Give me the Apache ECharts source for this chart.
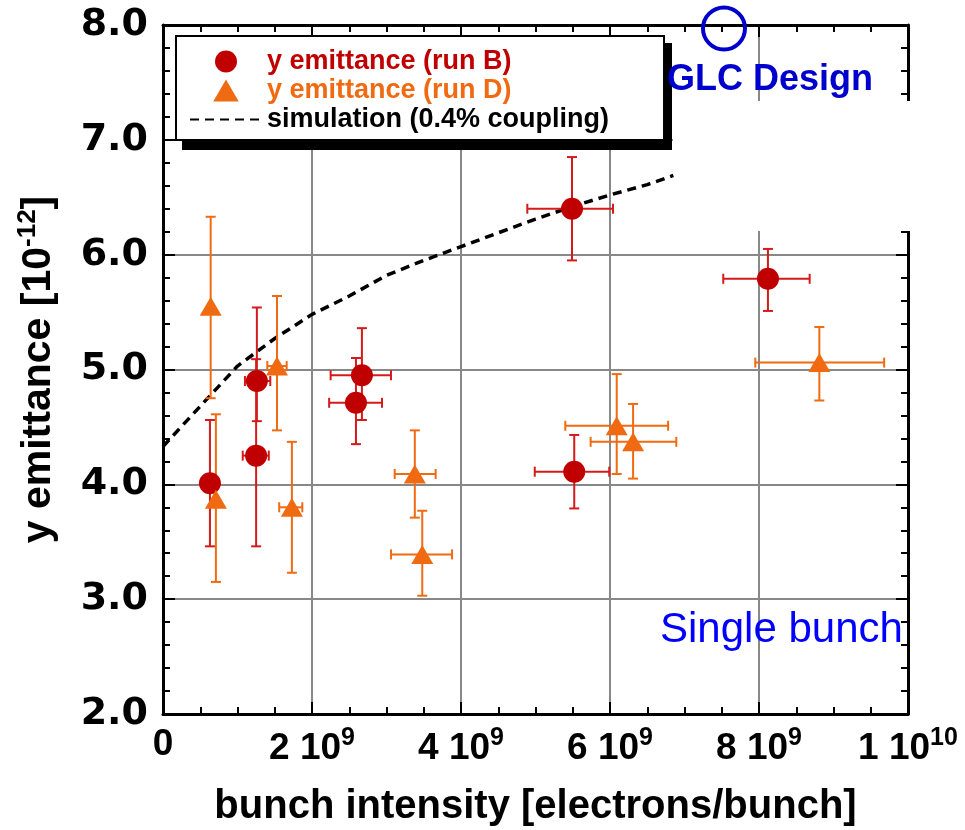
<!DOCTYPE html>
<html>
<head>
<meta charset="utf-8">
<script src="https://cdn.jsdelivr.net/npm/echarts@6/dist/echarts.min.js"></script>
<style>
  html, body { margin: 0; padding: 0; background: #fff; }
  #chart { width: 965px; height: 830px; }
</style>
</head>
<body>
<div id="chart"></div>
<script>
// values in units of 1e9 electrons/bunch and 1e-12
var runBX   = [0.63, 1.25, 1.26, 2.59, 2.67, 5.49, 5.52, 8.12];
var runBY   = [4.01, 4.25, 4.90, 4.71, 4.95, 6.40, 4.11, 5.79];
var runBYLo = [3.46, 3.46, 4.55, 4.35, 4.56, 5.95, 3.79, 5.51];
var runBYHi = [4.56, 5.09, 5.54, 5.10, 5.36, 6.85, 4.43, 6.05];
var runBXLo = [0.63, 1.07, 1.10, 2.23, 2.25, 4.89, 4.99, 7.52];
var runBXHi = [0.63, 1.42, 1.44, 2.94, 3.06, 6.04, 5.99, 8.68];

var runDX   = [0.64, 0.71, 1.53, 1.73, 3.38, 3.48, 6.09, 6.31, 8.81];
var runDY   = [5.55, 3.87, 5.03, 3.80, 4.09, 3.39, 4.51, 4.37, 5.06];
var runDYLo = [4.75, 3.15, 4.47, 3.23, 3.71, 3.03, 4.09, 4.05, 4.73];
var runDYHi = [6.33, 4.61, 5.64, 4.37, 4.47, 3.77, 4.96, 4.70, 5.37];
var runDXLo = [0.64, 0.71, 1.40, 1.56, 3.11, 3.06, 5.40, 5.74, 7.95];
var runDXHi = [0.64, 0.71, 1.66, 1.87, 3.66, 3.88, 6.78, 6.89, 9.68];

var simX = [0, 0.5, 1.0, 1.5, 2.0, 2.5, 3.0, 3.5, 4.0, 4.5, 5.0, 5.5, 6.0, 6.5, 6.85];
var simY = [4.33, 4.68, 5.03, 5.27, 5.48, 5.64, 5.82, 5.95, 6.07, 6.19, 6.31, 6.42, 6.52, 6.61, 6.69];

var glcX = [7.53];
var glcY = [7.97];

var xTicks = ['0', '2 10{s|9}', '4 10{s|9}', '6 10{s|9}', '8 10{s|9}', '1 10{s|10}'];

var RED = '#c00000', RED_BAR = '#d41a1a', ORANGE = '#f06a12';
var FONT = 'Liberation Sans, Arial, sans-serif';

function zip(a, b) {
    var out = [];
    for (var i = 0; i < a.length; i++) out.push([a[i], b[i]]);
    return out;
}
function errData(x, y, xlo, xhi, ylo, yhi) {
    var out = [];
    for (var i = 0; i < x.length; i++) out.push([x[i], y[i], xlo[i], xhi[i], ylo[i], yhi[i]]);
    return out;
}
function errorBars(color) {
    return function (params, api) {
        var p  = api.coord([api.value(0), api.value(1)]);
        var lo = api.coord([api.value(0), api.value(4)]);
        var hi = api.coord([api.value(0), api.value(5)]);
        var l  = api.coord([api.value(2), api.value(1)]);
        var r  = api.coord([api.value(3), api.value(1)]);
        var st = { stroke: color, lineWidth: 2 };
        var c = 5;
        var kids = [
            { type: 'line', shape: { x1: p[0], y1: lo[1], x2: p[0], y2: hi[1] }, style: st },
            { type: 'line', shape: { x1: p[0] - c, y1: lo[1], x2: p[0] + c, y2: lo[1] }, style: st },
            { type: 'line', shape: { x1: p[0] - c, y1: hi[1], x2: p[0] + c, y2: hi[1] }, style: st }
        ];
        if (r[0] - l[0] > 1) {
            kids.push({ type: 'line', shape: { x1: l[0], y1: p[1], x2: r[0], y2: p[1] }, style: st });
            kids.push({ type: 'line', shape: { x1: l[0], y1: p[1] - c, x2: l[0], y2: p[1] + c }, style: st });
            kids.push({ type: 'line', shape: { x1: r[0], y1: p[1] - c, x2: r[0], y2: p[1] + c }, style: st });
        }
        return { type: 'group', children: kids };
    };
}

var chart = echarts.init(document.getElementById('chart'));
var frame = { onZero: false, lineStyle: { color: '#000', width: 3 } };
var tick = { inside: true, length: 12, lineStyle: { color: '#000', width: 2 } };
var option = {
    animation: false,
    backgroundColor: '#fff',
    grid: { left: 163, top: 25, right: 57, bottom: 116, outerBoundsMode: 'none', containLabel: false },
    legend: {
        orient: 'vertical',
        left: 176, top: 36, z: 8,
        padding: [12, 55, 7, 13],
        itemWidth: 72, itemHeight: 22, itemGap: 2,
        backgroundColor: '#fff',
        borderColor: '#000', borderWidth: 2, borderRadius: 0,
        textStyle: { fontFamily: FONT, fontWeight: 'bold', fontSize: 27, lineHeight: 27 },
        data: [
            { name: 'y emittance (run B)', icon: 'circle', textStyle: { color: RED } },
            { name: 'y emittance (run D)', icon: 'path://M0,19L11,0L22,19Z', textStyle: { color: ORANGE } },
            { name: 'simulation (0.4% coupling)', textStyle: { color: '#000' },
              itemStyle: { color: 'rgba(0,0,0,0)', borderWidth: 0 } }
        ]
    },
    xAxis: [{
        type: 'value', min: 0, max: 10, interval: 2,
        name: 'bunch intensity [electrons/bunch]',
        nameLocation: 'middle', nameGap: 73,
        nameTextStyle: { fontFamily: FONT, fontWeight: 'bold', fontSize: 40, color: '#000' },
        axisLine: frame,
        axisTick: tick,
        minorTick: { show: true, splitNumber: 4, length: 7, lineStyle: { color: '#000', width: 2 } },
        splitLine: { show: true, lineStyle: { color: '#888', width: 2 } },
        axisLabel: {
            margin: 12, color: '#000',
            fontFamily: FONT, fontWeight: 'bold', fontSize: 37,
            formatter: function (v) { return xTicks[Math.round(v / 2)]; },
            rich: { s: { fontFamily: FONT, fontWeight: 'bold', fontSize: 25, padding: [0, 0, 20, 0] } }
        }
    }, {
        type: 'value', min: 0, max: 10, interval: 2, position: 'top',
        axisLine: frame,
        axisTick: tick,
        minorTick: { show: true, splitNumber: 4, length: 7, lineStyle: { color: '#000', width: 2 } },
        splitLine: { show: false }, axisLabel: { show: false }
    }],
    yAxis: [{
        type: 'value', min: 2, max: 8, interval: 1, position: 'left',
        name: 'y emittance [10{s|-12}]',
        nameLocation: 'middle', nameGap: 100, nameRotate: 90,
        nameTextStyle: {
            fontFamily: FONT, fontWeight: 'bold', fontSize: 41, color: '#000',
            rich: { s: { fontFamily: FONT, fontWeight: 'bold', fontSize: 26, padding: [0, 0, 22, 0] } }
        },
        axisLine: frame,
        axisTick: tick,
        minorTick: { show: true, splitNumber: 5, length: 7, lineStyle: { color: '#000', width: 2 } },
        splitLine: { show: true, lineStyle: { color: '#888', width: 2 } },
        axisLabel: {
            margin: 15, color: '#000',
            fontFamily: 'DejaVu Sans', fontWeight: 'bold', fontSize: 38,
            formatter: function (v) { return v.toFixed(1); }
        }
    }, {
        type: 'value', min: 2, max: 8, interval: 1, position: 'right',
        axisLine: frame,
        axisTick: tick,
        minorTick: { show: true, splitNumber: 5, length: 7, lineStyle: { color: '#000', width: 2 } },
        splitLine: { show: false }, axisLabel: { show: false }
    }],
    graphic: [
        { type: 'rect', z: 1, shape: { x: 673, y: 101, width: 250, height: 130 }, style: { fill: '#fff' } },
        // legend drop shadow
        { type: 'rect', z: 7, shape: { x: 182, y: 43, width: 490, height: 107 }, style: { fill: '#000' } },
        { type: 'text', z: 10, left: 667, top: 62,
          style: { text: 'GLC Design', fill: '#0000cc', fontFamily: FONT, fontWeight: 'bold', fontSize: 36 } },
        { type: 'text', z: 10, left: 660, top: 609,
          style: { text: 'Single bunch', fill: '#0000ff', fontFamily: FONT, fontSize: 42 } }
    ],
    series: [
        {
            name: 'simulation (0.4% coupling)', type: 'line', data: zip(simX, simY),
            symbol: 'none', smooth: false, z: 3,
            lineStyle: { color: '#000', width: 3.5, type: [9, 6] },
            itemStyle: { color: '#000' }
        },
        {
            name: 'errB', type: 'custom', data: errData(runBX, runBY, runBXLo, runBXHi, runBYLo, runBYHi),
            renderItem: errorBars(RED_BAR), z: 4, encode: { x: 0, y: 1 }
        },
        {
            name: 'errD', type: 'custom', data: errData(runDX, runDY, runDXLo, runDXHi, runDYLo, runDYHi),
            renderItem: errorBars(ORANGE), z: 4, encode: { x: 0, y: 1 }
        },
        {
            name: 'y emittance (run B)', type: 'scatter', data: zip(runBX, runBY),
            symbol: 'circle', symbolSize: 22, z: 5, itemStyle: { color: RED, opacity: 1 }
        },
        {
            name: 'y emittance (run D)', type: 'scatter', data: zip(runDX, runDY),
            symbol: 'triangle', symbolSize: [22, 19], z: 5, itemStyle: { color: ORANGE, opacity: 1 }
        },
        {
            name: 'GLC', type: 'scatter', data: zip(glcX, glcY), clip: false,
            symbol: 'circle', symbolSize: 42, z: 6,
            itemStyle: { color: 'rgba(0,0,0,0)', borderColor: '#0000cc', borderWidth: 4, opacity: 1 }
        }
    ]
};
chart.setOption(option);
</script>
</body>
</html>
